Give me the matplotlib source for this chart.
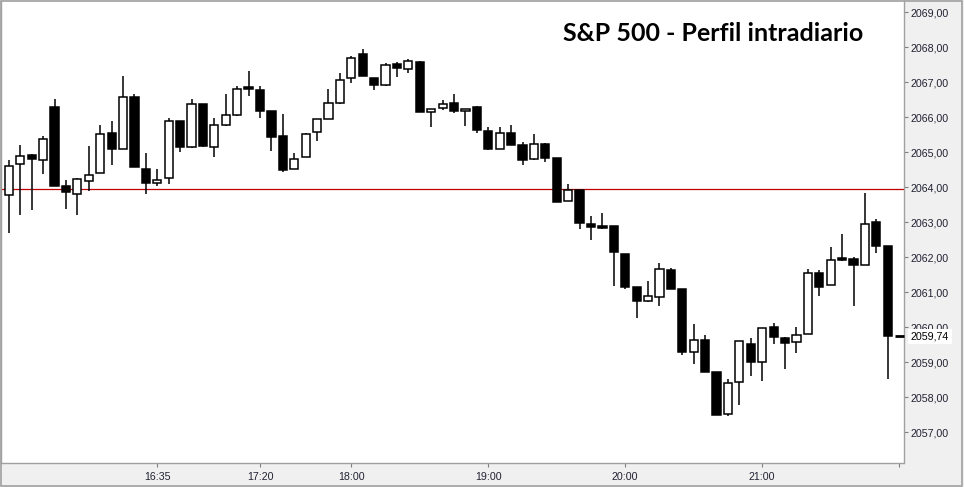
import matplotlib
matplotlib.use("Agg")
import matplotlib.pyplot as plt
from matplotlib.patches import Rectangle
import matplotlib.transforms as mtransforms

# ---- data (5-minute candles, 15:30 -> 21:55) ----
start_time = "15:30"
bar_minutes = 5

opens = [2063.79, 2064.67, 2064.91, 2064.79, 2066.28, 2064.03, 2063.82, 2064.18, 2064.42, 2065.54,
         2065.10, 2066.57, 2064.53, 2064.13, 2064.25, 2065.90, 2065.15, 2066.39, 2065.15, 2065.79,
         2066.07, 2066.87, 2066.77, 2066.17, 2065.47, 2064.53, 2064.86, 2065.58, 2065.95, 2066.40,
         2067.12, 2067.81, 2067.13, 2066.92, 2067.51, 2067.39, 2067.59, 2066.16, 2066.27, 2066.42,
         2066.19, 2066.28, 2065.62, 2065.09, 2065.54, 2065.20, 2064.80, 2065.23, 2064.83, 2063.61,
         2063.93, 2062.94, 2062.89, 2062.89, 2062.09, 2061.15, 2060.75, 2060.87, 2061.63, 2061.09,
         2059.30, 2059.65, 2058.72, 2057.51, 2058.43, 2059.52, 2059.01, 2060.00, 2059.69, 2059.58,
         2059.80, 2061.54, 2061.22, 2061.97, 2061.96, 2061.79, 2063.00, 2062.32]

highs = [2064.77, 2065.20, 2064.96, 2065.45, 2066.51, 2064.20, 2064.26, 2065.17, 2065.77, 2065.88,
         2067.17, 2066.67, 2064.99, 2064.53, 2065.99, 2065.90, 2066.53, 2066.39, 2065.99, 2066.65,
         2066.88, 2067.31, 2066.88, 2066.17, 2066.08, 2064.99, 2065.56, 2065.96, 2066.81, 2067.25,
         2067.76, 2067.94, 2067.13, 2067.54, 2067.59, 2067.65, 2067.62, 2066.24, 2066.48, 2066.67,
         2066.24, 2066.31, 2065.71, 2065.71, 2065.77, 2065.28, 2065.51, 2065.25, 2064.83, 2064.08,
         2063.93, 2063.17, 2063.26, 2062.89, 2062.09, 2061.15, 2061.32, 2061.83, 2061.69, 2061.09,
         2060.09, 2059.78, 2058.72, 2058.52, 2059.60, 2059.69, 2059.97, 2060.12, 2059.73, 2060.00,
         2061.66, 2061.63, 2062.29, 2062.66, 2062.02, 2063.83, 2063.08, 2062.32]

lows = [2062.69, 2063.20, 2063.34, 2064.37, 2064.03, 2063.37, 2063.20, 2063.89, 2064.42, 2064.63,
        2065.10, 2064.58, 2063.82, 2064.04, 2064.08, 2065.01, 2065.12, 2065.15, 2064.86, 2065.75,
        2066.03, 2066.60, 2065.98, 2065.03, 2064.44, 2064.53, 2064.86, 2065.32, 2065.95, 2066.38,
        2066.99, 2067.17, 2066.77, 2066.89, 2067.15, 2067.26, 2066.15, 2065.72, 2066.22, 2066.12,
        2065.75, 2065.55, 2065.06, 2065.09, 2065.21, 2064.63, 2064.77, 2064.72, 2063.58, 2063.61,
        2062.81, 2062.49, 2062.81, 2061.17, 2061.10, 2060.27, 2060.73, 2060.61, 2061.10, 2059.21,
        2058.96, 2058.73, 2057.49, 2057.47, 2057.79, 2058.61, 2058.47, 2059.53, 2058.81, 2059.27,
        2059.80, 2060.90, 2061.22, 2061.89, 2060.61, 2061.79, 2062.11, 2058.53]

closes = [2064.62, 2064.90, 2064.81, 2065.39, 2064.03, 2063.86, 2064.23, 2064.36, 2065.51, 2065.09,
          2066.59, 2064.58, 2064.12, 2064.22, 2065.90, 2065.15, 2066.39, 2065.17, 2065.79, 2066.07,
          2066.81, 2066.80, 2066.18, 2065.43, 2064.49, 2064.82, 2065.53, 2065.96, 2066.42, 2067.07,
          2067.70, 2067.17, 2066.92, 2067.50, 2067.41, 2067.61, 2066.15, 2066.24, 2066.39, 2066.18,
          2066.24, 2065.63, 2065.09, 2065.54, 2065.21, 2064.78, 2065.23, 2064.83, 2063.58, 2063.91,
          2062.98, 2062.87, 2062.83, 2062.15, 2061.15, 2060.75, 2060.88, 2061.66, 2061.10, 2059.30,
          2059.65, 2058.73, 2057.49, 2058.40, 2059.60, 2059.01, 2059.97, 2059.73, 2059.56, 2059.77,
          2061.54, 2061.15, 2061.91, 2061.92, 2061.78, 2062.96, 2062.32, 2059.74]

time_labels = ["16:35", "17:20", "18:00", "19:00", "20:00", "21:00", "22:00"]
time_label_text = ["16:35", "17:20", "18:00", "19:00", "20:00", "21:00", ""]
price_ticks = [2057, 2058, 2059, 2060, 2061, 2062, 2063, 2064, 2065, 2066, 2067, 2068, 2069]
reference_level = 2063.94
last_price = 2059.74
title = "S&P 500 - Perfil intradiario"


def minutes(t):
    h, m = t.split(":")
    return int(h) * 60 + int(m)


def bar_index(t):
    return (minutes(t) - minutes(start_time)) / bar_minutes


fig = plt.figure(figsize=(9.64, 4.87), dpi=100)
fig.patch.set_facecolor("#f0f0f0")
W, H = 964, 487
ax = fig.add_axes([0.5 / W, (H - 463.3) / H, 903.0 / W, 462.8 / H])
ax.set_facecolor("white")

idx = list(range(len(opens)))
# wicks
ax.vlines(idx, lows, highs, color="black", linewidth=1.1, zorder=2)
# bodies
bottoms = [min(o, c) for o, c in zip(opens, closes)]
heights = [max(abs(c - o), 0.03) for o, c in zip(opens, closes)]
colors = ["white" if c >= o else "black" for o, c in zip(opens, closes)]
ax.bar(idx, heights, bottom=bottoms, width=0.72, color=colors,
       edgecolor="black", linewidth=1.1, zorder=3)

# reference line
ax.axhline(reference_level, color="#c00000", linewidth=0.9, zorder=1)

# last price marker
ax.hlines(last_price, len(opens) - 0.4, len(opens) + 0.4, color="black",
          linewidth=2, zorder=4, clip_on=False)
trans = mtransforms.blended_transform_factory(ax.transAxes, ax.transData)
ax.text(1.008, last_price, f"{last_price:.2f}".replace(".", ","), transform=trans,
        ha="left", va="center", fontsize=7.7, family="Liberation Sans", color="black",
        bbox=dict(boxstyle="square,pad=0.25", facecolor="white", edgecolor="none"),
        zorder=10, clip_on=False)

ax.set_xlim(-0.735, 78.38)
ax.set_ylim(2056.115, 2069.334)

ax.yaxis.tick_right()
ax.set_yticks(price_ticks)
ax.set_yticklabels([f"{p:.2f}".replace(".", ",") for p in price_ticks],
                   fontsize=7.7, family="Liberation Sans", color="#222233")
ax.tick_params(axis="y", length=3, width=0.8, color="#808080", pad=2)

ax.set_xticks([bar_index(t) for t in time_labels])
ax.set_xticklabels(time_label_text, fontsize=7.7, family="Liberation Sans", color="#222233")
ax.tick_params(axis="x", length=3, width=0.8, color="#808080", pad=3)

for side in ["left", "bottom", "right"]:
    ax.spines[side].set_color("#a0a0a0")
    ax.spines[side].set_linewidth(1.0)
ax.spines["top"].set_visible(False)

fig.text(563 / W, 1 - 40.7 / H, title, ha="left", va="baseline", fontsize=18,
         fontweight="bold", family="Lato", color="black")

# outer frame
fig.patches.append(Rectangle((0.5 / W, 1.5 / H), (W - 2.5) / W, (H - 2) / H,
                             transform=fig.transFigure, fill=False,
                             edgecolor="#a0a0a0", linewidth=1.2))

fig.savefig("out.png", dpi=100, facecolor=fig.get_facecolor())
